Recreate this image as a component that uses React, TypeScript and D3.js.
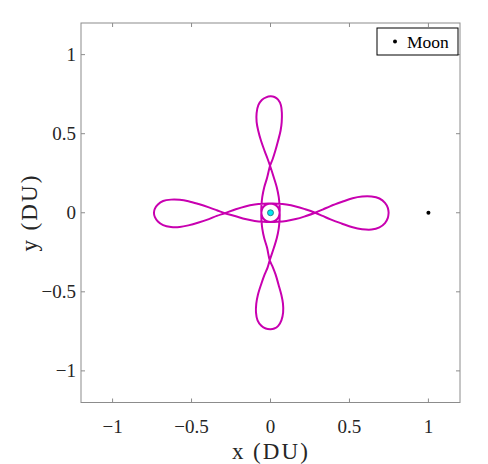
import React from "react";
import * as d3 from "d3";

// Orbit in rotating frame (DU), in path order
const orbitX = [
  // quarter 1: right lobe lower half -> centre -> bottom lobe right side
  0.748, 0.743, 0.725, 0.690, 0.640, 0.580, 0.520, 0.450, 0.380, 0.330, 0.283,
  0.220, 0.160, 0.100, 0.050, 0.000, -0.030, -0.050, -0.058, -0.057, -0.052, -0.040, -0.022,
  -0.005, 0.015, 0.032, 0.051, 0.069, 0.079, 0.080, 0.069, 0.049, 0.024,
  // quarter 2: bottom lobe left side -> centre -> left lobe lower half
  0.000, -0.030, -0.058, -0.082, -0.092, -0.090, -0.080, -0.060, -0.037, -0.018,
  -0.005, 0.022, 0.040, 0.052, 0.057, 0.058, 0.050, 0.030, 0.000, -0.050, -0.100, -0.160, -0.220,
  -0.290, -0.340, -0.390, -0.455, -0.520, -0.575, -0.630, -0.680, -0.713, -0.732,
  // quarter 3: left lobe upper half -> centre -> top lobe left side
  -0.738, -0.732, -0.713, -0.680, -0.630, -0.575, -0.520, -0.455, -0.390, -0.340,
  -0.290, -0.220, -0.160, -0.100, -0.050, 0.000, 0.030, 0.050, 0.058, 0.057, 0.052, 0.040, 0.022,
  -0.003, -0.018, -0.037, -0.060, -0.078, -0.088, -0.088, -0.077, -0.055, -0.028,
  // quarter 4: top lobe right side -> centre -> right lobe upper half
  0.000, 0.025, 0.048, 0.066, 0.072, 0.071, 0.064, 0.048, 0.030, 0.014,
  -0.003, -0.022, -0.040, -0.052, -0.057, -0.058, -0.050, -0.030, 0.000, 0.050, 0.100, 0.160, 0.220,
  0.283, 0.330, 0.380, 0.450, 0.520, 0.580, 0.640, 0.690, 0.725, 0.743,
  0.748,
];
const orbitY = [
  0.000, -0.032, -0.065, -0.092, -0.106, -0.104, -0.092, -0.068, -0.042, -0.020, 0.000,
  0.022, 0.040, 0.052, 0.057, 0.058, 0.050, 0.030, 0.000, -0.050, -0.100, -0.160, -0.220,
  -0.300, -0.345, -0.390, -0.455, -0.520, -0.575, -0.630, -0.680, -0.715, -0.732,
  -0.736, -0.732, -0.715, -0.680, -0.630, -0.575, -0.520, -0.455, -0.390, -0.345,
  -0.300, -0.220, -0.160, -0.100, -0.050, 0.000, 0.030, 0.050, 0.058, 0.057, 0.052, 0.040, 0.022,
  -0.003, -0.020, -0.040, -0.062, -0.080, -0.090, -0.090, -0.078, -0.055, -0.028,
  0.000, 0.026, 0.052, 0.074, 0.083, 0.082, 0.073, 0.055, 0.034, 0.016,
  -0.003, -0.022, -0.040, -0.052, -0.057, -0.058, -0.050, -0.030, 0.000, 0.050, 0.100, 0.160, 0.220,
  0.297, 0.340, 0.390, 0.455, 0.520, 0.575, 0.630, 0.680, 0.713, 0.730,
  0.736, 0.732, 0.715, 0.680, 0.630, 0.575, 0.520, 0.455, 0.390, 0.340,
  0.297, 0.220, 0.160, 0.100, 0.050, 0.000, -0.030, -0.050, -0.058, -0.057, -0.052, -0.040, -0.022,
  0.000, 0.020, 0.042, 0.068, 0.092, 0.103, 0.103, 0.090, 0.063, 0.031,
  0.000,
];

const earth = { x: 0, y: 0 };
const moon = { x: 1, y: 0 };
const xTicks = [-1, -0.5, 0, 0.5, 1];
const yTicks = [-1, -0.5, 0, 0.5, 1];
const tickLabels = ["\u22121", "\u22120.5", "0", "0.5", "1"];
const legendLabels = ["Moon"];
const xLabelParts = ["x", "(DU)"];
const yLabelParts = ["y", "(DU)"];

const W = 488;
const H = 464;
const FONT = "'Liberation Serif', 'DejaVu Serif', serif";

function AxisLabel({ parts }: { parts: string[] }) {
  // drawn around local origin: text centre at x=0, baseline at y=0
  return (
    <g fontFamily={FONT} fontSize={23} fill="#262626">
      <text x={-38.5} y={0}>
        {parts[0]}
      </text>
      <text x={-17.5} y={0} textLength={55} lengthAdjust="spacing">
        {parts[1]}
      </text>
    </g>
  );
}

export default function App() {
  const x = d3.scaleLinear().domain([-1.2, 1.2]).range([81, 460]);
  const y = d3.scaleLinear().domain([-1.2, 1.2]).range([402.5, 23]);
  const pts: [number, number][] = orbitX.map((v, i) => [v, orbitY[i]]);
  const line = d3
    .line<[number, number]>()
    .x((d) => x(d[0]))
    .y((d) => y(d[1]))
    .curve(d3.curveCatmullRom.alpha(0.5));
  const tl = 4;
  const axisColor = "#8c8c8c";
  const textColor = "#262626";
  return (
    <svg width={W} height={H} style={{ display: "block", position: "absolute", left: 0, top: 0 }}>
      <rect x={0} y={0} width={W} height={H} fill="#fff" />
      <path d={line(pts) || ""} fill="none" stroke="#c800b0" strokeWidth={2} strokeLinejoin="round" />
      <circle cx={x(moon.x)} cy={y(moon.y)} r={2} fill="#000" />
      <circle cx={x(earth.x)} cy={y(earth.y)} r={3} fill="#00e6f0" stroke="#1a6a78" strokeWidth={0.8} />
      {/* frame */}
      <rect x={81} y={23} width={379} height={379.5} fill="none" stroke={axisColor} strokeWidth={1} />
      {xTicks.map((t, i) => (
        <g key={"x" + i}>
          <line x1={x(t)} x2={x(t)} y1={402.5} y2={402.5 - tl} stroke={axisColor} />
          <line x1={x(t)} x2={x(t)} y1={23} y2={23 + tl} stroke={axisColor} />
          <text x={x(t)} y={433} textAnchor="middle" fontFamily={FONT} fontSize={19} fill={textColor}>
            {tickLabels[i]}
          </text>
        </g>
      ))}
      {yTicks.map((t, i) => (
        <g key={"y" + i}>
          <line x1={81} x2={81 + tl} y1={y(t)} y2={y(t)} stroke={axisColor} />
          <line x1={460} x2={460 - tl} y1={y(t)} y2={y(t)} stroke={axisColor} />
          <text x={76} y={y(t) + 6.5} textAnchor="end" fontFamily={FONT} fontSize={19} fill={textColor}>
            {tickLabels[i]}
          </text>
        </g>
      ))}
      <g transform="translate(270.5,459)">
        <AxisLabel parts={xLabelParts} />
      </g>
      <g transform="translate(37,213) rotate(-90)">
        <AxisLabel parts={yLabelParts} />
      </g>
      {/* legend */}
      <rect x={377} y={28} width={81} height={27} fill="#fff" stroke="#000" strokeWidth={1} />
      <circle cx={395} cy={41.5} r={2} fill="#000" />
      <text x={407} y={47.5} fontFamily={FONT} fontSize={17.5} fill="#000">
        {legendLabels[0]}
      </text>
    </svg>
  );
}
